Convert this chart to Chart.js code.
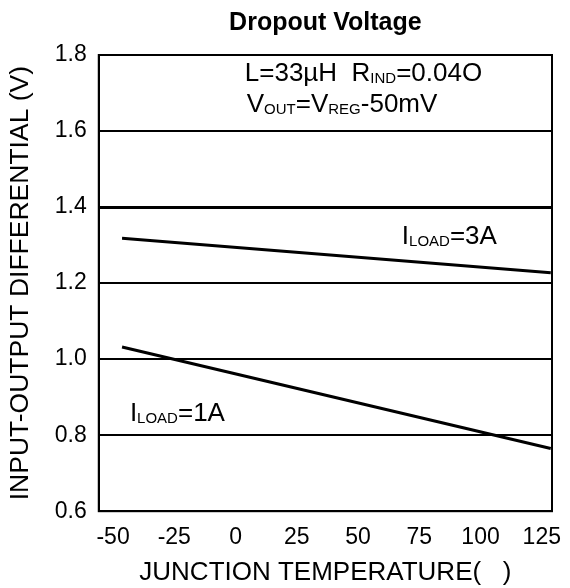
<!DOCTYPE html>
<html>
<head>
<meta charset="utf-8">
<script src="https://cdn.jsdelivr.net/npm/chart.js@4.4.0/dist/chart.umd.min.js"></script>
<style>
  html, body { margin: 0; padding: 0; background: #fff; }
  #wrap { width: 570px; height: 588px; }
</style>
</head>
<body>
<div id="wrap"><canvas id="dropout"></canvas></div>
<script>
// junction temperature (°C), end points of each curve
const temps = [-50, 125];
// input-output differential (V)
const load3A = [1.318, 1.227];
const load1A = [1.032, 0.765];
const xTicks = [-50, -25, 0, 25, 50, 75, 100, 125];
const yTicks = [0.6, 0.8, 1.0, 1.2, 1.4, 1.6, 1.8];

const FONT = "'Liberation Sans', Arial, sans-serif";

// text with subscripts, parts are [text, isSub]
function drawRich(ctx, x, y, parts) {
  parts.forEach(([txt, sub]) => {
    ctx.font = (sub ? "15px " : "26px ") + FONT;
    ctx.fillText(txt, x, sub ? y + 2 : y);
    x += ctx.measureText(txt).width;
  });
}

const notes = {
  id: "notes",
  afterDraw(chart) {
    const { ctx, chartArea: a, scales: { x, y } } = chart;
    ctx.save();
    // plot frame
    ctx.strokeStyle = "#000";
    ctx.lineWidth = 2;
    ctx.strokeRect(a.left, a.top, a.right - a.left, a.bottom - a.top);

    ctx.fillStyle = "#000";
    ctx.textBaseline = "alphabetic";
    ctx.textAlign = "left";
    drawRich(ctx, x.getPixelForValue(0.1), y.getPixelForValue(1.731),
      [["L=33µH  R", false], ["IND", true], ["=0.04O", false]]);
    drawRich(ctx, x.getPixelForValue(0.9), y.getPixelForValue(1.649),
      [["V", false], ["OUT", true], ["=V", false], ["REG", true], ["-50mV", false]]);
    drawRich(ctx, x.getPixelForValue(64.2), y.getPixelForValue(1.302),
      [["I", false], ["LOAD", true], ["=3A", false]]);
    drawRich(ctx, x.getPixelForValue(-46.8), y.getPixelForValue(0.838),
      [["I", false], ["LOAD", true], ["=1A", false]]);
    ctx.restore();
  }
};

const ctx = document.getElementById("dropout").getContext("2d");
new Chart(ctx, {
  type: "line",
  data: {
    datasets: [
      {
        label: "ILOAD=3A",
        data: temps.map((t, i) => ({ x: t, y: load3A[i] })),
        borderColor: "#000",
        borderWidth: 3,
        pointRadius: 0,
        tension: 0,
      },
      {
        label: "ILOAD=1A",
        data: temps.map((t, i) => ({ x: t, y: load1A[i] })),
        borderColor: "#000",
        borderWidth: 3,
        pointRadius: 0,
        tension: 0,
      },
    ],
  },
  options: {
    responsive: true,
    maintainAspectRatio: false,
    animation: false,
    layout: { padding: { left: 5, right: 18, top: 4, bottom: 0 } },
    plugins: {
      legend: { display: false },
      tooltip: { enabled: false },
      title: {
        display: true,
        text: "Dropout Voltage",
        fullSize: false,
        color: "#000",
        font: { family: FONT, size: 25, weight: "bold" },
        padding: { top: 4, bottom: 17 },
      },
    },
    scales: {
      x: {
        type: "linear",
        min: -59.5,
        max: 125.5,
        afterBuildTicks: (axis) => {
          axis.ticks = xTicks.map((v) => ({ value: v }));
        },
        // let the frame reach the right edge like the original
        afterFit: (axis) => {
          axis.paddingLeft = 0;
          axis.paddingRight = 0;
        },
        grid: { display: false, drawTicks: false },
        border: { display: true, color: "#000", width: 2 },
        ticks: {
          color: "#000",
          padding: 13,
          labelOffset: -9,
          maxRotation: 0,
          autoSkip: false,
          font: { family: FONT, size: 23 },
        },
        title: {
          display: true,
          text: "JUNCTION TEMPERATURE(   )",
          color: "#000",
          font: { family: FONT, size: 26 },
          padding: { top: -8, bottom: 0 },
        },
      },
      y: {
        min: 0.6,
        max: 1.8,
        afterBuildTicks: (axis) => {
          axis.ticks = yTicks.map((v) => ({ value: v }));
        },
        grid: {
          color: "#000",
          lineWidth: (c) => (c.tick && Math.abs(c.tick.value - 1.4) < 1e-6 ? 3 : 2),
          drawTicks: false,
        },
        border: { display: true, color: "#000", width: 2 },
        ticks: {
          color: "#000",
          padding: 12,
          callback: (v) => v.toFixed(1),
          font: { family: FONT, size: 23 },
        },
        title: {
          display: true,
          text: "INPUT-OUTPUT DIFFERENTIAL (V)",
          color: "#000",
          font: { family: FONT, size: 26.5 },
          padding: { top: 0, bottom: 6 },
        },
      },
    },
  },
  plugins: [notes],
});
</script>
</body>
</html>
